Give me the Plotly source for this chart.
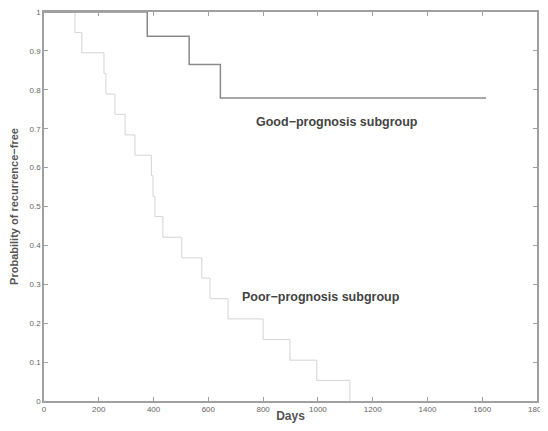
import plotly.graph_objects as go

good_days = [0, 377, 530, 644, 1614]
good_surv = [1.0, 0.9375, 0.865, 0.779, 0.779]

poor_days = [0, 113, 138, 219, 226, 259, 296, 332, 392, 398, 405, 434, 503, 576, 606, 672, 800, 898, 996, 1117]
poor_surv = [1.0, 0.947, 0.895, 0.842, 0.789, 0.737, 0.684, 0.632, 0.579, 0.526, 0.474,
             0.421, 0.368, 0.316, 0.263, 0.211, 0.158, 0.105, 0.053, 0.0]

x_ticks = [0, 200, 400, 600, 800, 1000, 1200, 1400, 1600, 1800]
y_ticks = [0, 0.1, 0.2, 0.3, 0.4, 0.5, 0.6, 0.7, 0.8, 0.9, 1]
y_tick_text = ["0", "0.1", "0.2", "0.3", "0.4", "0.5", "0.6", "0.7", "0.8", "0.9", "1"]

labels = [
    ("Good−prognosis subgroup", 1070, 0.717),
    ("Poor−prognosis subgroup", 1010, 0.268),
]

fig = go.Figure()
fig.add_trace(go.Scatter(x=poor_days, y=poor_surv, mode="lines", line_shape="hv",
                         line=dict(color="#d4d4d4", width=1), showlegend=False))
fig.add_trace(go.Scatter(x=good_days, y=good_surv, mode="lines", line_shape="hv",
                         line=dict(color="#8a8a8a", width=1.5), showlegend=False))

for txt, x, y in labels:
    fig.add_annotation(x=x, y=y, text="<b>" + txt + "</b>", showarrow=False,
                       font=dict(family="Liberation Sans, Arial", size=12.5, color="#444444"))

axis_common = dict(showline=True, linecolor="#a0a0a0", linewidth=1.5, mirror="ticks",
                   ticks="inside", ticklen=4, tickcolor="#a0a0a0", showgrid=False,
                   zeroline=False, automargin=False, ticklabeloverflow="allow",
                   tickfont=dict(family="Liberation Sans, Arial", size=8, color="#666666"))

fig.update_xaxes(range=[0, 1800], tickvals=x_ticks, ticktext=[str(v) for v in x_ticks],
                 title=dict(text="<b>Days</b>", standoff=0,
                            font=dict(family="Liberation Sans, Arial", size=12, color="#555555")),
                 **axis_common)
fig.update_yaxes(range=[0, 1], tickvals=y_ticks, ticktext=y_tick_text,
                 title=dict(text="<b>Probability of recurrence−free</b>", standoff=12,
                            font=dict(family="Liberation Sans, Arial", size=11, color="#555555")),
                 **axis_common)

fig.update_layout(width=540, height=415, margin=dict(l=36, r=11, t=4, b=22),
                  plot_bgcolor="white", paper_bgcolor="white")

fig.write_html("out.html")
